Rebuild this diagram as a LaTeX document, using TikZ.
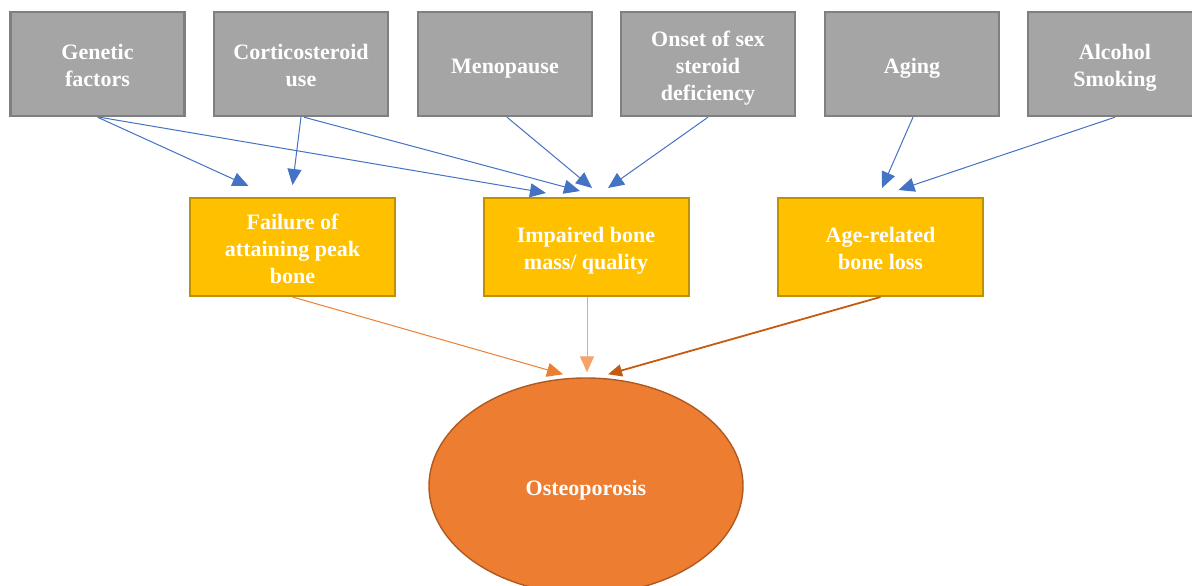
\documentclass[tikz,border=0pt]{standalone}
\usepackage{fontspec}
\setmainfont{Liberation Serif}
\usetikzlibrary{arrows.meta,shapes.geometric,calc}
\definecolor{grayfill}{HTML}{A5A5A5}
\definecolor{grayline}{HTML}{7F7F7F}
\definecolor{yelfill}{HTML}{FFC000}
\definecolor{yelline}{HTML}{BF9000}
\definecolor{orfill}{HTML}{ED7D31}
\definecolor{orline}{HTML}{AE5A21}
\definecolor{blueline}{HTML}{4472C4}
\definecolor{lightor}{HTML}{F4A46A}
\definecolor{brownline}{HTML}{C55A11}
\newcommand\mylines[1]{\raisebox{-4pt}[\height][\depth]{\begin{tabular}{@{}c@{}}#1\end{tabular}}}
\tikzset{
  txt/.style={text=white, font=\bfseries\fontsize{22}{27}\selectfont, inner sep=0pt},
  factor/.style={txt, draw=grayline, fill=grayfill, line width=2.4pt, minimum width=174pt, minimum height=104pt},
  effect/.style={txt, draw=yelline, fill=yelfill, line width=2pt, minimum width=205pt, minimum height=98pt},
  result/.style={txt, ellipse, draw=orline, fill=orfill, line width=1.4pt, minimum width=314pt, minimum height=216pt},
  tip/.style={-{Triangle[length=16pt,width=14pt]}},
  bluearrow/.style={draw=blueline, line width=1pt, tip},
  orarrow/.style={draw=orfill, line width=1pt, tip},
  ltarrow/.style={draw=lightor, line width=1pt, tip},
  brarrow/.style={draw=brownline, line width=1.8pt, -{Triangle[length=14pt,width=12pt]}}
}
\begin{document}
\begin{tikzpicture}[x=1pt,y=-1pt]
\path[use as bounding box, clip] (0,0) rectangle (1192,586);
\fill[white] (0,0) rectangle (1192,586);
% factors
\node[factor] (genetic) at (97.5,64) {\mylines{Genetic\\factors}};
\node[factor] (cortico) at (301,64) {\mylines{Corticosteroid\\use}};
\node[factor] (meno) at (505,64) {\mylines{Menopause}};
\node[factor] (onset) at (708,64) {\mylines{Onset of sex\\steroid\\deficiency}};
\node[factor] (aging) at (912,64) {\mylines{Aging}};
\node[factor] (alcohol) at (1115,64) {\mylines{Alcohol\\Smoking}};
% effects
\node[effect] (failure) at (292.5,247) {\mylines{Failure of\\attaining peak\\bone}};
\node[effect] (impaired) at (586,247) {\mylines{Impaired bone\\mass/ quality}};
\node[effect] (agerel) at (880.5,247) {\mylines{Age-related\\bone loss}};
% result
\node[result] (osteo) at (586,486) {\mylines{Osteoporosis}};
% blue connectors
\draw[bluearrow] (genetic.south) -- ($(failure.north)+(-44,-11)$);
\draw[bluearrow] ($(genetic.south)+(2,0)$) -- ($(impaired.north)+(-40,-4)$);
\draw[bluearrow] (cortico.south) -- ($(failure.north)+(0,-12)$);
\draw[bluearrow] ($(cortico.south)+(3,0)$) -- ($(impaired.north)+(-6,-6)$);
\draw[bluearrow] ($(meno.south)+(2,0)$) -- ($(impaired.north)+(6,-9)$);
\draw[bluearrow] (onset.south) -- ($(impaired.north)+(22,-9)$);
\draw[bluearrow] ($(aging.south)+(1,0)$) -- ($(agerel.north)+(1.5,-9)$);
\draw[bluearrow] (alcohol.south) -- ($(agerel.north)+(18,-7)$);
% orange connectors
\draw[orarrow] (failure.south) -- ($(osteo.north)+(-23,-3)$);
\draw[ltarrow] ($(impaired.south)+(1,0)$) -- ($(osteo.north)+(1,-5)$);
\draw[brarrow] (agerel.south) -- ($(osteo.north)+(22,-3)$);
\end{tikzpicture}
\end{document}
